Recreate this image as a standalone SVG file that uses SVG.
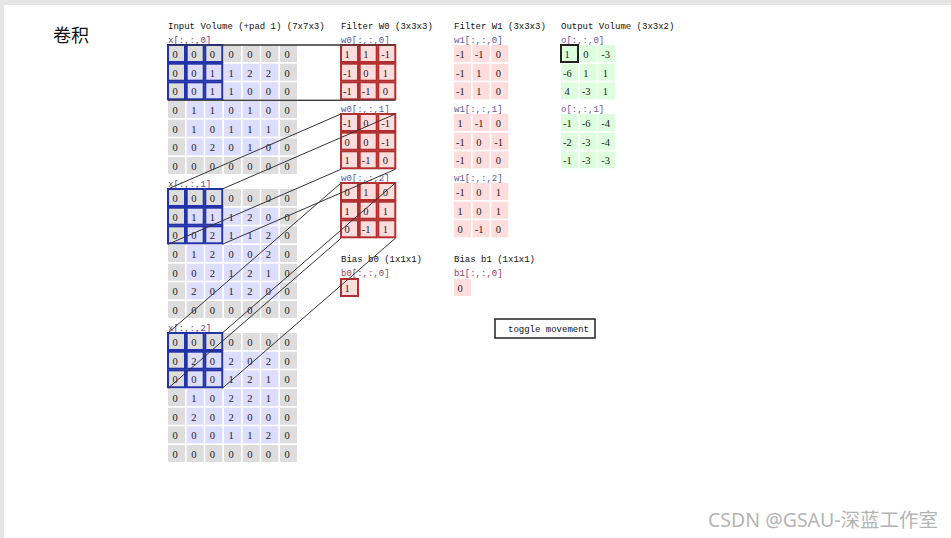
<svg xmlns="http://www.w3.org/2000/svg" xmlns:xlink="http://www.w3.org/1999/xlink" width="951" height="538" viewBox="0 0 951 538">
<style>
.n text{font-family:"Liberation Serif",serif;font-size:10.5px;fill:#222}
text.t,.n text.t{font-family:"Liberation Mono",monospace;font-size:9px;fill:#111}
.n text.lx{font-family:"Liberation Mono",monospace;font-size:9px;fill:#7a3f78}
.n text.lw{font-family:"Liberation Mono",monospace;font-size:9px;fill:#5a5aa8}
.n text.lb{font-family:"Liberation Mono",monospace;font-size:9px;fill:#a04060}
.n text.lo{font-family:"Liberation Mono",monospace;font-size:9px;fill:#7050a0}
.p{fill:#dddddd}
.v{fill:#ddddff}
.hl{fill:none;stroke:#2232a8;stroke-width:2}
.wr{fill:#ffdddd;stroke:#b33030;stroke-width:2}
.wp{fill:#ffdddd}
.og{fill:#ddffdd}
.cn line{stroke:#333;stroke-width:1}
</style>
<defs>
<g id="grid7">
<rect class="p" x="0" y="0" width="17" height="17"/><rect class="p" x="18.7" y="0" width="17" height="17"/><rect class="p" x="37.3" y="0" width="17" height="17"/><rect class="p" x="56" y="0" width="17" height="17"/><rect class="p" x="74.7" y="0" width="17" height="17"/><rect class="p" x="93.3" y="0" width="17" height="17"/><rect class="p" x="112" y="0" width="17" height="17"/>
<rect class="p" x="0" y="18.7" width="17" height="17"/><rect class="v" x="18.7" y="18.7" width="17" height="17"/><rect class="v" x="37.3" y="18.7" width="17" height="17"/><rect class="v" x="56" y="18.7" width="17" height="17"/><rect class="v" x="74.7" y="18.7" width="17" height="17"/><rect class="v" x="93.3" y="18.7" width="17" height="17"/><rect class="p" x="112" y="18.7" width="17" height="17"/>
<rect class="p" x="0" y="37.3" width="17" height="17"/><rect class="v" x="18.7" y="37.3" width="17" height="17"/><rect class="v" x="37.3" y="37.3" width="17" height="17"/><rect class="v" x="56" y="37.3" width="17" height="17"/><rect class="v" x="74.7" y="37.3" width="17" height="17"/><rect class="v" x="93.3" y="37.3" width="17" height="17"/><rect class="p" x="112" y="37.3" width="17" height="17"/>
<rect class="p" x="0" y="56" width="17" height="17"/><rect class="v" x="18.7" y="56" width="17" height="17"/><rect class="v" x="37.3" y="56" width="17" height="17"/><rect class="v" x="56" y="56" width="17" height="17"/><rect class="v" x="74.7" y="56" width="17" height="17"/><rect class="v" x="93.3" y="56" width="17" height="17"/><rect class="p" x="112" y="56" width="17" height="17"/>
<rect class="p" x="0" y="74.7" width="17" height="17"/><rect class="v" x="18.7" y="74.7" width="17" height="17"/><rect class="v" x="37.3" y="74.7" width="17" height="17"/><rect class="v" x="56" y="74.7" width="17" height="17"/><rect class="v" x="74.7" y="74.7" width="17" height="17"/><rect class="v" x="93.3" y="74.7" width="17" height="17"/><rect class="p" x="112" y="74.7" width="17" height="17"/>
<rect class="p" x="0" y="93.3" width="17" height="17"/><rect class="v" x="18.7" y="93.3" width="17" height="17"/><rect class="v" x="37.3" y="93.3" width="17" height="17"/><rect class="v" x="56" y="93.3" width="17" height="17"/><rect class="v" x="74.7" y="93.3" width="17" height="17"/><rect class="v" x="93.3" y="93.3" width="17" height="17"/><rect class="p" x="112" y="93.3" width="17" height="17"/>
<rect class="p" x="0" y="112" width="17" height="17"/><rect class="p" x="18.7" y="112" width="17" height="17"/><rect class="p" x="37.3" y="112" width="17" height="17"/><rect class="p" x="56" y="112" width="17" height="17"/><rect class="p" x="74.7" y="112" width="17" height="17"/><rect class="p" x="93.3" y="112" width="17" height="17"/><rect class="p" x="112" y="112" width="17" height="17"/>
</g>
<g id="hl3">
<rect class="hl" x="0" y="0" width="17" height="17"/><rect class="hl" x="18.7" y="0" width="17" height="17"/><rect class="hl" x="37.3" y="0" width="17" height="17"/>
<rect class="hl" x="0" y="18.7" width="17" height="17"/><rect class="hl" x="18.7" y="18.7" width="17" height="17"/><rect class="hl" x="37.3" y="18.7" width="17" height="17"/>
<rect class="hl" x="0" y="37.3" width="17" height="17"/><rect class="hl" x="18.7" y="37.3" width="17" height="17"/><rect class="hl" x="37.3" y="37.3" width="17" height="17"/>
</g>
<g id="wr3">
<rect class="wr" x="0" y="0" width="17" height="17"/><rect class="wr" x="18.7" y="0" width="17" height="17"/><rect class="wr" x="37.3" y="0" width="17" height="17"/>
<rect class="wr" x="0" y="18.7" width="17" height="17"/><rect class="wr" x="18.7" y="18.7" width="17" height="17"/><rect class="wr" x="37.3" y="18.7" width="17" height="17"/>
<rect class="wr" x="0" y="37.3" width="17" height="17"/><rect class="wr" x="18.7" y="37.3" width="17" height="17"/><rect class="wr" x="37.3" y="37.3" width="17" height="17"/>
</g>
<g id="wp3">
<rect class="wp" x="0" y="0" width="17" height="17"/><rect class="wp" x="18.7" y="0" width="17" height="17"/><rect class="wp" x="37.3" y="0" width="17" height="17"/>
<rect class="wp" x="0" y="18.7" width="17" height="17"/><rect class="wp" x="18.7" y="18.7" width="17" height="17"/><rect class="wp" x="37.3" y="18.7" width="17" height="17"/>
<rect class="wp" x="0" y="37.3" width="17" height="17"/><rect class="wp" x="18.7" y="37.3" width="17" height="17"/><rect class="wp" x="37.3" y="37.3" width="17" height="17"/>
</g>
<g id="og3">
<rect class="og" x="0" y="0" width="17" height="17"/><rect class="og" x="18.7" y="0" width="17" height="17"/><rect class="og" x="37.3" y="0" width="17" height="17"/>
<rect class="og" x="0" y="18.7" width="17" height="17"/><rect class="og" x="18.7" y="18.7" width="17" height="17"/><rect class="og" x="37.3" y="18.7" width="17" height="17"/>
<rect class="og" x="0" y="37.3" width="17" height="17"/><rect class="og" x="18.7" y="37.3" width="17" height="17"/><rect class="og" x="37.3" y="37.3" width="17" height="17"/>
</g>
</defs>
<rect x="0" y="0" width="951" height="538" fill="#ffffff"/>
<rect x="0" y="0" width="951" height="5" fill="#e6e6e6"/>
<rect x="0" y="0" width="4" height="538" fill="#e6e6e6"/>
<text x="53" y="42" style="font-family:'Noto Sans CJK SC',sans-serif;font-size:18px;fill:#111">卷积</text>

<g id="titles">
<text class="t" x="168" y="29">Input Volume (+pad 1) (7x7x3)</text>
<text class="t" x="341" y="29">Filter W0 (3x3x3)</text>
<text class="t" x="454" y="29">Filter W1 (3x3x3)</text>
<text class="t" x="561" y="29">Output Volume (3x3x2)</text>
</g>

<g id="input0" class="n" transform="translate(168,45)">
<text class="lx" x="0" y="-2.5">x[:,:,0]</text>
<use xlink:href="#grid7"/>
<text x="4.5" y="13">0</text><text x="23.2" y="13">0</text><text x="41.8" y="13">0</text><text x="60.5" y="13">0</text><text x="79.2" y="13">0</text><text x="97.8" y="13">0</text><text x="116.5" y="13">0</text>
<text x="4.5" y="31.7">0</text><text x="23.2" y="31.7">0</text><text x="41.8" y="31.7">1</text><text x="60.5" y="31.7">1</text><text x="79.2" y="31.7">2</text><text x="97.8" y="31.7">2</text><text x="116.5" y="31.7">0</text>
<text x="4.5" y="50.3">0</text><text x="23.2" y="50.3">0</text><text x="41.8" y="50.3">1</text><text x="60.5" y="50.3">1</text><text x="79.2" y="50.3">0</text><text x="97.8" y="50.3">0</text><text x="116.5" y="50.3">0</text>
<text x="4.5" y="69">0</text><text x="23.2" y="69">1</text><text x="41.8" y="69">1</text><text x="60.5" y="69">0</text><text x="79.2" y="69">1</text><text x="97.8" y="69">0</text><text x="116.5" y="69">0</text>
<text x="4.5" y="87.7">0</text><text x="23.2" y="87.7">1</text><text x="41.8" y="87.7">0</text><text x="60.5" y="87.7">1</text><text x="79.2" y="87.7">1</text><text x="97.8" y="87.7">1</text><text x="116.5" y="87.7">0</text>
<text x="4.5" y="106.3">0</text><text x="23.2" y="106.3">0</text><text x="41.8" y="106.3">2</text><text x="60.5" y="106.3">0</text><text x="79.2" y="106.3">1</text><text x="97.8" y="106.3">0</text><text x="116.5" y="106.3">0</text>
<text x="4.5" y="125">0</text><text x="23.2" y="125">0</text><text x="41.8" y="125">0</text><text x="60.5" y="125">0</text><text x="79.2" y="125">0</text><text x="97.8" y="125">0</text><text x="116.5" y="125">0</text>
<use xlink:href="#hl3"/>
</g>

<g id="input1" class="n" transform="translate(168,189)">
<text class="lx" x="0" y="-2.5">x[:,:,1]</text>
<use xlink:href="#grid7"/>
<text x="4.5" y="13">0</text><text x="23.2" y="13">0</text><text x="41.8" y="13">0</text><text x="60.5" y="13">0</text><text x="79.2" y="13">0</text><text x="97.8" y="13">0</text><text x="116.5" y="13">0</text>
<text x="4.5" y="31.7">0</text><text x="23.2" y="31.7">1</text><text x="41.8" y="31.7">1</text><text x="60.5" y="31.7">1</text><text x="79.2" y="31.7">2</text><text x="97.8" y="31.7">0</text><text x="116.5" y="31.7">0</text>
<text x="4.5" y="50.3">0</text><text x="23.2" y="50.3">0</text><text x="41.8" y="50.3">2</text><text x="60.5" y="50.3">1</text><text x="79.2" y="50.3">1</text><text x="97.8" y="50.3">2</text><text x="116.5" y="50.3">0</text>
<text x="4.5" y="69">0</text><text x="23.2" y="69">1</text><text x="41.8" y="69">2</text><text x="60.5" y="69">0</text><text x="79.2" y="69">0</text><text x="97.8" y="69">2</text><text x="116.5" y="69">0</text>
<text x="4.5" y="87.7">0</text><text x="23.2" y="87.7">0</text><text x="41.8" y="87.7">2</text><text x="60.5" y="87.7">1</text><text x="79.2" y="87.7">2</text><text x="97.8" y="87.7">1</text><text x="116.5" y="87.7">0</text>
<text x="4.5" y="106.3">0</text><text x="23.2" y="106.3">2</text><text x="41.8" y="106.3">0</text><text x="60.5" y="106.3">1</text><text x="79.2" y="106.3">2</text><text x="97.8" y="106.3">0</text><text x="116.5" y="106.3">0</text>
<text x="4.5" y="125">0</text><text x="23.2" y="125">0</text><text x="41.8" y="125">0</text><text x="60.5" y="125">0</text><text x="79.2" y="125">0</text><text x="97.8" y="125">0</text><text x="116.5" y="125">0</text>
<use xlink:href="#hl3"/>
</g>

<g id="input2" class="n" transform="translate(168,333)">
<text class="lx" x="0" y="-2.5">x[:,:,2]</text>
<use xlink:href="#grid7"/>
<text x="4.5" y="13">0</text><text x="23.2" y="13">0</text><text x="41.8" y="13">0</text><text x="60.5" y="13">0</text><text x="79.2" y="13">0</text><text x="97.8" y="13">0</text><text x="116.5" y="13">0</text>
<text x="4.5" y="31.7">0</text><text x="23.2" y="31.7">2</text><text x="41.8" y="31.7">0</text><text x="60.5" y="31.7">2</text><text x="79.2" y="31.7">0</text><text x="97.8" y="31.7">2</text><text x="116.5" y="31.7">0</text>
<text x="4.5" y="50.3">0</text><text x="23.2" y="50.3">0</text><text x="41.8" y="50.3">0</text><text x="60.5" y="50.3">1</text><text x="79.2" y="50.3">2</text><text x="97.8" y="50.3">1</text><text x="116.5" y="50.3">0</text>
<text x="4.5" y="69">0</text><text x="23.2" y="69">1</text><text x="41.8" y="69">0</text><text x="60.5" y="69">2</text><text x="79.2" y="69">2</text><text x="97.8" y="69">1</text><text x="116.5" y="69">0</text>
<text x="4.5" y="87.7">0</text><text x="23.2" y="87.7">2</text><text x="41.8" y="87.7">0</text><text x="60.5" y="87.7">2</text><text x="79.2" y="87.7">0</text><text x="97.8" y="87.7">0</text><text x="116.5" y="87.7">0</text>
<text x="4.5" y="106.3">0</text><text x="23.2" y="106.3">0</text><text x="41.8" y="106.3">0</text><text x="60.5" y="106.3">1</text><text x="79.2" y="106.3">1</text><text x="97.8" y="106.3">2</text><text x="116.5" y="106.3">0</text>
<text x="4.5" y="125">0</text><text x="23.2" y="125">0</text><text x="41.8" y="125">0</text><text x="60.5" y="125">0</text><text x="79.2" y="125">0</text><text x="97.8" y="125">0</text><text x="116.5" y="125">0</text>
<use xlink:href="#hl3"/>
</g>

<g id="w0_0" class="n" transform="translate(341,45)">
<text class="lw" x="0" y="-2.5">w0[:,:,0]</text>
<use xlink:href="#wr3"/>
<text x="3.5" y="13">1</text><text x="22.2" y="13">1</text><text x="40.3" y="13">-1</text>
<text x="2" y="31.7">-1</text><text x="22.2" y="31.7">0</text><text x="41.8" y="31.7">1</text>
<text x="2" y="50.3">-1</text><text x="20.7" y="50.3">-1</text><text x="41.8" y="50.3">0</text>
</g>
<g id="w0_1" class="n" transform="translate(341,114)">
<text class="lw" x="0" y="-2.5">w0[:,:,1]</text>
<use xlink:href="#wr3"/>
<text x="2" y="13">-1</text><text x="22.2" y="13">0</text><text x="40.3" y="13">-1</text>
<text x="3.5" y="31.7">0</text><text x="22.2" y="31.7">0</text><text x="40.3" y="31.7">-1</text>
<text x="3.5" y="50.3">1</text><text x="20.7" y="50.3">-1</text><text x="41.8" y="50.3">0</text>
</g>
<g id="w0_2" class="n" transform="translate(341,183)">
<text class="lw" x="0" y="-2.5">w0[:,:,2]</text>
<use xlink:href="#wr3"/>
<text x="3.5" y="13">0</text><text x="22.2" y="13">1</text><text x="41.8" y="13">0</text>
<text x="3.5" y="31.7">1</text><text x="22.2" y="31.7">0</text><text x="41.8" y="31.7">1</text>
<text x="3.5" y="50.3">0</text><text x="20.7" y="50.3">-1</text><text x="41.8" y="50.3">1</text>
</g>
<g id="b0" class="n" transform="translate(341,279)">
<text class="t" x="0" y="-17">Bias b0 (1x1x1)</text>
<text class="lb" x="0" y="-3">b0[:,:,0]</text>
<rect class="wr" x="0" y="0" width="17" height="17"/>
<text x="3.5" y="13">1</text>
</g>

<g id="w1_0" class="n" transform="translate(454,45)">
<text class="lw" x="0" y="-2.5">w1[:,:,0]</text>
<use xlink:href="#wp3"/>
<text x="2" y="13">-1</text><text x="20.7" y="13">-1</text><text x="41.8" y="13">0</text>
<text x="2" y="31.7">-1</text><text x="22.2" y="31.7">1</text><text x="41.8" y="31.7">0</text>
<text x="2" y="50.3">-1</text><text x="22.2" y="50.3">1</text><text x="41.8" y="50.3">0</text>
</g>
<g id="w1_1" class="n" transform="translate(454,114)">
<text class="lw" x="0" y="-2.5">w1[:,:,1]</text>
<use xlink:href="#wp3"/>
<text x="3.5" y="13">1</text><text x="20.7" y="13">-1</text><text x="41.8" y="13">0</text>
<text x="2" y="31.7">-1</text><text x="22.2" y="31.7">0</text><text x="40.3" y="31.7">-1</text>
<text x="2" y="50.3">-1</text><text x="22.2" y="50.3">0</text><text x="41.8" y="50.3">0</text>
</g>
<g id="w1_2" class="n" transform="translate(454,183)">
<text class="lw" x="0" y="-2.5">w1[:,:,2]</text>
<use xlink:href="#wp3"/>
<text x="2" y="13">-1</text><text x="22.2" y="13">0</text><text x="41.8" y="13">1</text>
<text x="3.5" y="31.7">1</text><text x="22.2" y="31.7">0</text><text x="41.8" y="31.7">1</text>
<text x="3.5" y="50.3">0</text><text x="20.7" y="50.3">-1</text><text x="41.8" y="50.3">0</text>
</g>
<g id="b1" class="n" transform="translate(454,279)">
<text class="t" x="0" y="-17">Bias b1 (1x1x1)</text>
<text class="lb" x="0" y="-3">b1[:,:,0]</text>
<rect class="wp" x="0" y="0" width="17" height="17"/>
<text x="3.5" y="13">0</text>
</g>

<g id="out0" class="n" transform="translate(561,45)">
<text class="lo" x="0" y="-2.5">o[:,:,0]</text>
<use xlink:href="#og3"/>
<rect x="0" y="0" width="17" height="17" fill="none" stroke="#222" stroke-width="2"/>
<text x="3.5" y="13">1</text><text x="22.2" y="13">0</text><text x="40.3" y="13">-3</text>
<text x="2" y="31.7">-6</text><text x="22.2" y="31.7">1</text><text x="41.8" y="31.7">1</text>
<text x="3.5" y="50.3">4</text><text x="20.7" y="50.3">-3</text><text x="41.8" y="50.3">1</text>
</g>
<g id="out1" class="n" transform="translate(561,114)">
<text class="lo" x="0" y="-2.5">o[:,:,1]</text>
<use xlink:href="#og3"/>
<text x="2" y="13">-1</text><text x="20.7" y="13">-6</text><text x="40.3" y="13">-4</text>
<text x="2" y="31.7">-2</text><text x="20.7" y="31.7">-3</text><text x="40.3" y="31.7">-4</text>
<text x="2" y="50.3">-1</text><text x="20.7" y="50.3">-3</text><text x="40.3" y="50.3">-3</text>
</g>

<g id="connectors" class="cn">
<line x1="168" y1="45" x2="341" y2="45"/>
<line x1="222.3" y1="45" x2="395.3" y2="45"/>
<line x1="168" y1="100.3" x2="341" y2="100.3"/>
<line x1="222.3" y1="100.3" x2="395.3" y2="100.3"/>
<line x1="168" y1="189" x2="341" y2="114"/>
<line x1="222.3" y1="189" x2="395.3" y2="114"/>
<line x1="168" y1="244.3" x2="341" y2="169.3"/>
<line x1="222.3" y1="244.3" x2="395.3" y2="169.3"/>
<line x1="168" y1="333" x2="341" y2="183"/>
<line x1="222.3" y1="333" x2="395.3" y2="183"/>
<line x1="168" y1="388.3" x2="341" y2="238.3"/>
<line x1="222.3" y1="388.3" x2="395.3" y2="238.3"/>
</g>

<g id="toggle">
<rect x="495" y="319" width="100" height="19" fill="#fff" stroke="#222" stroke-width="1.5"/>
<text class="t" x="508" y="332">toggle movement</text>
</g>

<text x="708" y="527" style="font-family:'Noto Sans','Noto Sans CJK SC',sans-serif;font-size:19.5px;fill:#b4b4b4">CSDN @GSAU-深蓝工作室</text>
</svg>
